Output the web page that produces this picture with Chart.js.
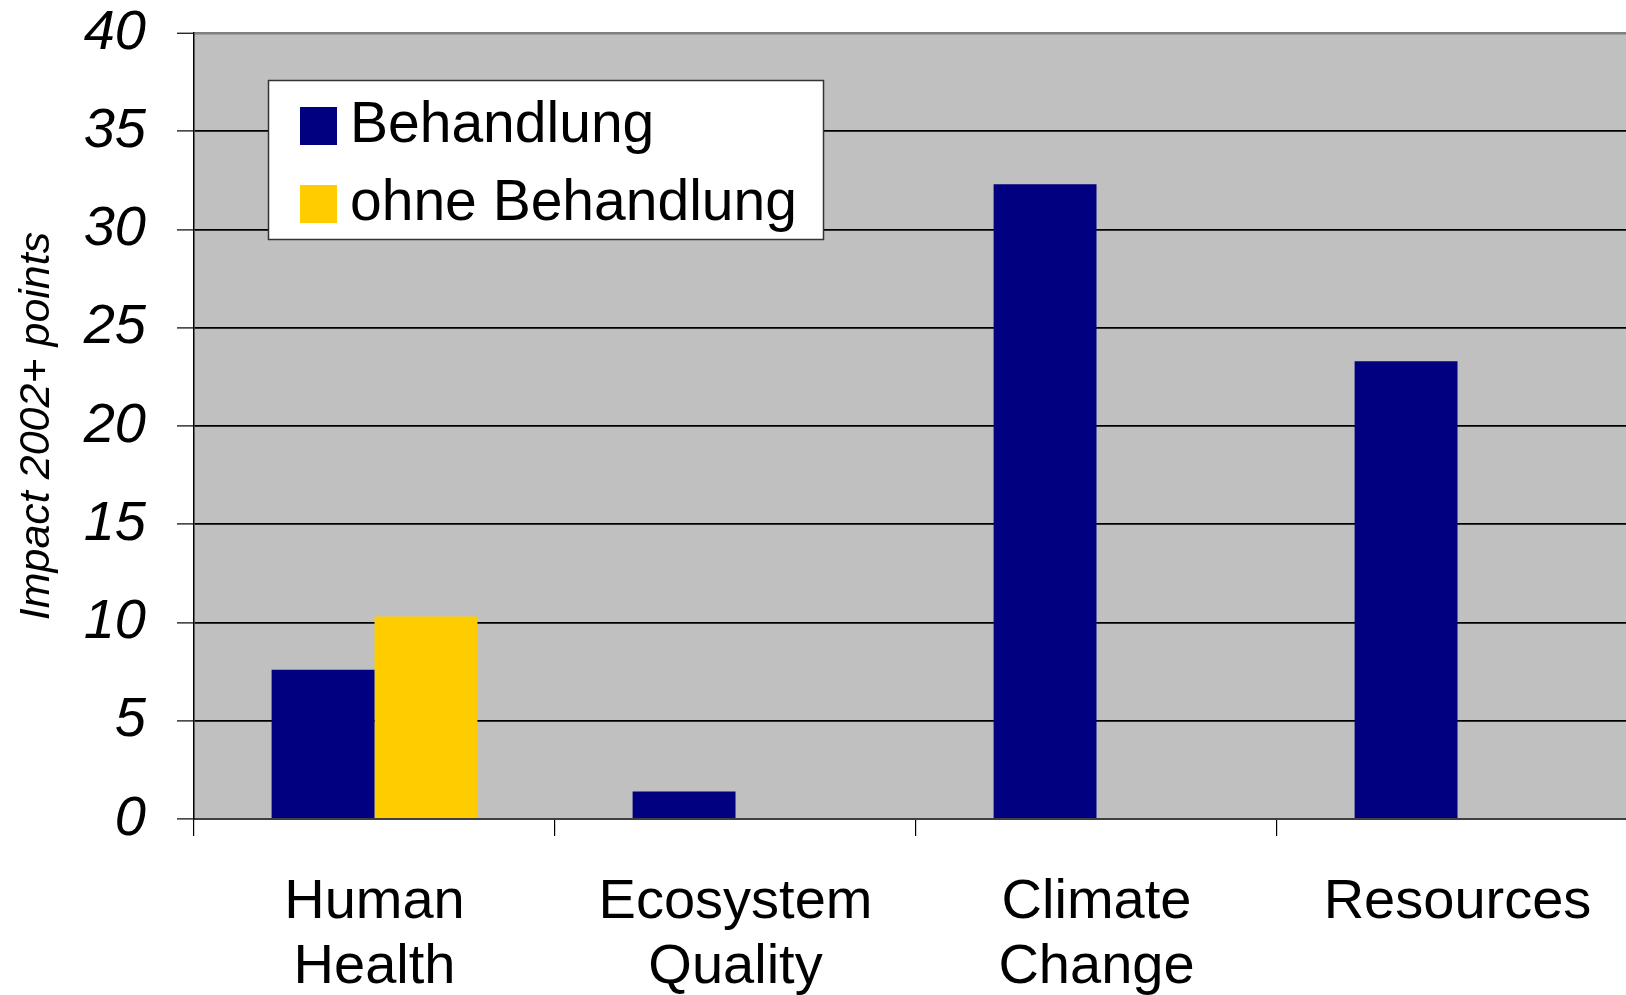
<!DOCTYPE html>
<html>
<head>
<meta charset="utf-8">
<script src="https://cdn.jsdelivr.net/npm/chart.js@4/dist/chart.umd.min.js"></script>
<style>
  html, body { margin: 0; padding: 0; background: #fff; overflow: hidden; }
  #wrap { width: 1626px; height: 995px; overflow: hidden; position: relative; }
  canvas { display: block; }
</style>
</head>
<body>
<div id="wrap"><canvas id="chart" width="1638" height="995"></canvas></div>
<script>
// Impact categories (x axis)
const categories = [['Human', 'Health'], ['Ecosystem', 'Quality'], ['Climate', 'Change'], 'Resources'];

// Series
const seriesNames = ['Behandlung', 'ohne Behandlung'];
const behandlung = [7.6, 1.4, 32.3, 23.3];
const ohneBehandlung = [10.3, null, null, null];

// Value axis
const yTicks = [0, 5, 10, 15, 20, 25, 30, 35, 40];
const yTitle = 'Impact 2002+ points';

const seriesColors = ['#000080', '#FFCC00'];
const FONT = "'Liberation Sans', Arial, sans-serif";

// Grey plot background behind the grid
const plotBackground = {
  id: 'plotBackground',
  beforeDraw(chart) {
    const { ctx, chartArea: a } = chart;
    ctx.save();
    ctx.fillStyle = '#C0C0C0';
    ctx.fillRect(a.left, a.top, a.right - a.left, a.bottom - a.top);
    ctx.restore();
  }
};

// Boxed legend placed inside the plot area
const boxedLegend = {
  id: 'boxedLegend',
  afterDraw(chart) {
    const { ctx } = chart;
    const x = 268, y = 80, w = 555, h = 159;
    ctx.save();
    ctx.fillStyle = '#fff';
    ctx.fillRect(x, y, w, h);
    ctx.strokeStyle = '#333';
    ctx.lineWidth = 1.5;
    ctx.strokeRect(x + 0.5, y + 0.5, w, h);
    ctx.font = '57px ' + FONT;
    ctx.textBaseline = 'alphabetic';
    ctx.textAlign = 'left';
    chart.data.datasets.forEach((ds, i) => {
      const rowTop = 107 + i * 78;
      ctx.fillStyle = ds.backgroundColor;
      ctx.fillRect(300, rowTop, 37, 38);
      ctx.fillStyle = '#000';
      ctx.fillText(ds.label, 350, rowTop + 35);
    });
    ctx.restore();
  }
};

new Chart(document.getElementById('chart'), {
  type: 'bar',
  data: {
    labels: categories,
    datasets: [
      { label: seriesNames[0], data: behandlung, backgroundColor: seriesColors[0] },
      { label: seriesNames[1], data: ohneBehandlung, backgroundColor: seriesColors[1] }
    ]
  },
  options: {
    responsive: false,
    animation: false,
    devicePixelRatio: 1,
    layout: { padding: { top: 33, left: 0, right: 0, bottom: 0 } },
    datasets: {
      bar: { categoryPercentage: 0.57, barPercentage: 1.0, borderWidth: 0 }
    },
    plugins: {
      legend: { display: false },
      tooltip: { enabled: false }
    },
    scales: {
      x: {
        offset: true,
        afterFit(scale) {
          scale.height = 176;
          scale.paddingLeft = 0;
          scale.paddingRight = 0;
        },
        border: { display: true, color: '#404040', width: 2 },
        grid: {
          offset: true,
          drawOnChartArea: false,
          drawTicks: true,
          tickLength: 17,
          tickColor: '#000',
          lineWidth: 1.2
        },
        ticks: {
          color: '#000',
          padding: 34,
          maxRotation: 0,
          autoSkip: false,
          font: { family: FONT, size: 56, lineHeight: 1.16 }
        }
      },
      y: {
        min: 0,
        max: 40,
        afterFit(scale) {
          scale.width = 194;
          scale.paddingTop = 0;
          scale.paddingBottom = 0;
        },
        afterBuildTicks(scale) { scale.ticks = yTicks.map(v => ({ value: v })); },
        border: { display: true, color: '#000', width: 1.5 },
        grid: {
          color: ctx => (ctx.tick && ctx.tick.value === 40 ? '#808080' : '#000'),
          lineWidth: ctx => (ctx.tick && ctx.tick.value === 40 ? 2.5 : 1.8),
          drawTicks: true,
          tickLength: 17,
          tickColor: '#000',
          tickWidth: 1.2
        },
        ticks: {
          color: '#000',
          padding: 31,
          font: { family: FONT, size: 56, style: 'italic', lineHeight: 1 }
        },
        title: {
          display: true,
          text: yTitle,
          color: '#000',
          padding: { top: 11, bottom: 0 },
          font: { family: FONT, size: 43, style: 'italic', lineHeight: 1.2 }
        }
      }
    }
  },
  plugins: [plotBackground, boxedLegend]
});
</script>
</body>
</html>
